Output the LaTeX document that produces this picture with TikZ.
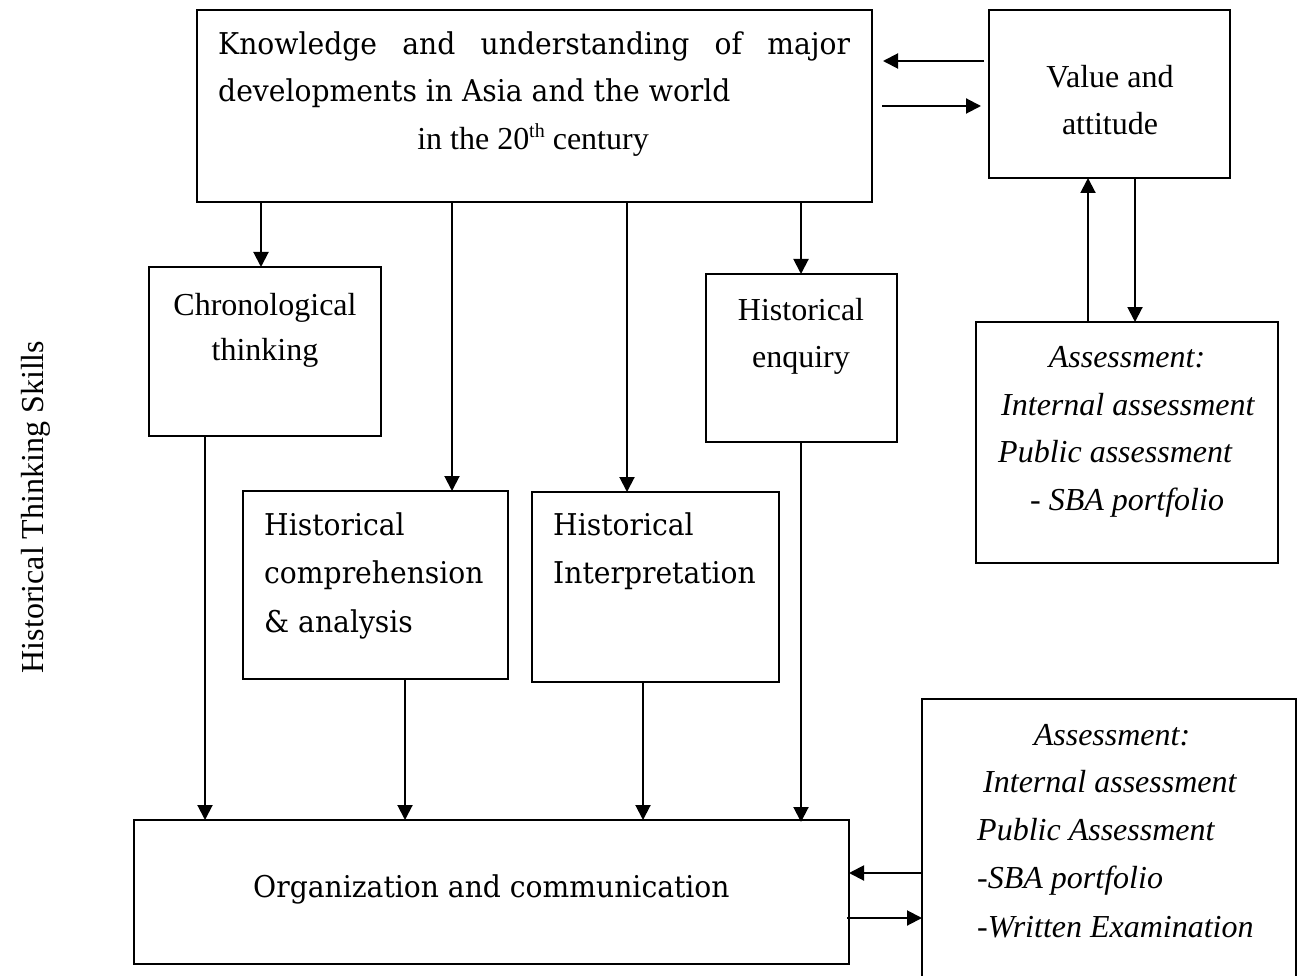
\documentclass[tikz,border=0pt]{standalone}
\usepackage{fontspec}
\setmainfont{Liberation Serif}
\newfontfamily\wideserif[FakeStretch=0.94]{DejaVu Serif}
\usetikzlibrary{arrows.meta}
\newcommand\supth{\raisebox{0.85ex}{\fontsize{20}{20}\selectfont th}}
\begin{document}
\begin{tikzpicture}[x=1pt,y=-1pt,
  box/.style={draw, line width=2pt, inner sep=0pt, outer sep=0pt, anchor=north west},
  arr/.style={line width=2pt, -{Triangle[length=15pt,width=15pt]}},
  tt/.style={inner sep=0pt, font=\fontsize{32}{38}\selectfont},
  wt/.style={inner sep=0pt, font=\wideserif\fontsize{30}{36}\selectfont},
  it/.style={inner sep=0pt, font=\itshape\fontsize{32}{38}\selectfont}]
\useasboundingbox (0,0) rectangle (1303,976);
\clip (0,0) rectangle (1303,976);

% boxes
\node[box, minimum width=675pt, minimum height=192pt] (know) at (197,10) {};
\node[box, minimum width=241pt, minimum height=168pt] (val) at (989,10) {};
\node[box, minimum width=232pt, minimum height=169pt] (chr) at (149,267) {};
\node[box, minimum width=191pt, minimum height=168pt] (enq) at (706,274) {};
\node[box, minimum width=302pt, minimum height=241pt] (as1) at (976,322) {};
\node[box, minimum width=265pt, minimum height=188pt] (cmp) at (243,491) {};
\node[box, minimum width=247pt, minimum height=190pt] (int) at (532,492) {};
\node[box, minimum width=715pt, minimum height=144pt] (org) at (134,820) {};
\node[box, minimum width=374pt, minimum height=300pt] (as2) at (922,699) {};

% helper coordinates
\coordinate (x205) at (205,0);
\coordinate (x261) at (261,0);
\coordinate (x405) at (405,0);
\coordinate (x452) at (452,0);
\coordinate (x627) at (627,0);
\coordinate (x643) at (643,0);
\coordinate (x801) at (801,0);
\coordinate (x1088) at (1088,0);
\coordinate (x1135) at (1135,0);
\coordinate (y61) at (0,61);
\coordinate (y106) at (0,106);
\coordinate (y873) at (0,873);
\coordinate (y918) at (0,918);

% arrows
\draw[arr] (know.south -| x261) -- (chr.north -| x261);
\draw[arr] (know.south -| x452) -- (cmp.north -| x452);
\draw[arr] (know.south -| x627) -- (int.north -| x627);
\draw[arr] (know.south -| x801) -- (enq.north -| x801);
\draw[arr] (chr.south -| x205) -- (org.north -| x205);
\draw[arr] (cmp.south -| x405) -- (org.north -| x405);
\draw[arr] (int.south -| x643) -- (org.north -| x643);
\draw[arr, shorten >=-2pt] (enq.south -| x801) -- (org.north -| x801);
\draw[arr, shorten <=5pt, shorten >=11pt] (val.west |- y61) -- (know.east |- y61);
\draw[arr, shorten <=10pt, shorten >=8pt] (know.east |- y106) -- (val.west |- y106);
\draw[arr] (as1.north -| x1088) -- (val.south -| x1088);
\draw[arr] (val.south -| x1135) -- (as1.north -| x1135);
\draw[arr] (as2.west |- y873) -- (org.east |- y873);
\draw[arr, shorten <=-2pt] (org.east |- y918) -- (as2.west |- y918);

% texts
\node[wt, anchor=base west] (k1) at (218,55) {\makebox[632pt][s]{Knowledge and understanding of major}};
\node[wt, anchor=base west] (k2) at (218,102) {developments in Asia and the world};
\node[tt, anchor=base] (k3) at (533,150) {in the 20\supth{} century};
\node[tt, anchor=base] (v1) at (1110,88) {Value and};
\node[tt, anchor=base] (v2) at (1110,135) {attitude};
\node[tt, anchor=base] (c1) at (265,315) {Chronological};
\node[tt, anchor=base] (c2) at (265,360) {thinking};
\node[tt, anchor=base] (e1) at (801,320) {Historical};
\node[tt, anchor=base] (e2) at (801,367) {enquiry};
\node[wt, anchor=base west] (m1) at (264,535) {Historical};
\node[wt, anchor=base west] (m2) at (264,583) {comprehension};
\node[wt, anchor=base west] (m3) at (264,632) {\& analysis};
\node[wt, anchor=base west] (i1) at (553,535) {Historical};
\node[wt, anchor=base west] (i2) at (553,583) {Interpretation};
\node[wt, anchor=base west] (o1) at (253,897) {Organization and communication};
\node[it, anchor=base] (a1) at (1127,367) {Assessment:};
\node[it, anchor=base west] (a2) at (1001,415) {Internal assessment};
\node[it, anchor=base west] (a3) at (998,462) {Public assessment};
\node[it, anchor=base west] (a4) at (1030,510) {- SBA portfolio};
\node[it, anchor=base] (b1) at (1112,745) {Assessment:};
\node[it, anchor=base west] (b2) at (983,792) {Internal assessment};
\node[it, anchor=base west] (b3) at (977,840) {Public Assessment};
\node[it, anchor=base west] (b4) at (977,888) {-SBA portfolio};
\node[it, anchor=base west] (b5) at (977,937) {-Written Examination};
\node[tt, anchor=base, rotate=90] (vt) at (43,507) {Historical Thinking Skills};
\end{tikzpicture}
\end{document}
